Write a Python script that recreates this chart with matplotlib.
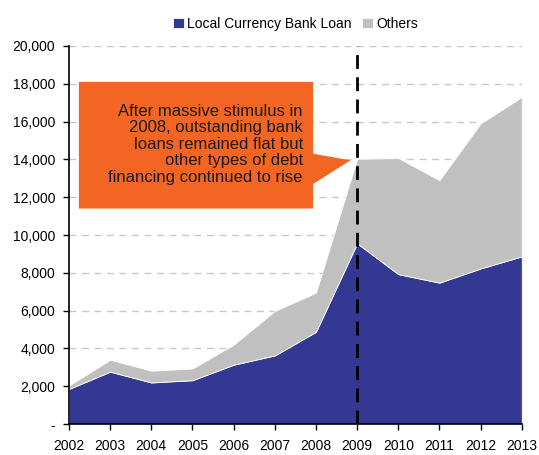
import numpy as np
import matplotlib.pyplot as plt
from matplotlib.patches import Polygon
from matplotlib.ticker import FuncFormatter

plt.rcParams['font.family'] = ['Liberation Sans', 'DejaVu Sans']

years = [2002, 2003, 2004, 2005, 2006, 2007, 2008, 2009, 2010, 2011, 2012, 2013]
bank_loan = [1860, 2770, 2200, 2320, 3140, 3630, 4880, 9560, 7930, 7480, 8230, 8870]
total_debt = [2040, 3400, 2820, 2940, 4200, 5980, 6950, 14030, 14070, 12900, 15900, 17300]
others = [t - b for t, b in zip(total_debt, bank_loan)]

note = ("After massive stimulus in\n2008, outstanding bank\nloans remained flat but\n"
        "other types of debt\nfinancing continued to rise")

blue = '#333893'
grey = '#c0c0c0'
orange = '#f26522'

fig = plt.figure(figsize=(5.39, 4.55), dpi=100)
ax = fig.add_axes([0.128, 0.068, 0.840, 0.831])

ax.stackplot(years, bank_loan, others, colors=[blue, grey],
             labels=['Local Currency Bank Loan', 'Others'],
             edgecolor='white', linewidth=0.6, zorder=2)

ax.set_xlim(2002, 2013)
ax.set_ylim(0, 20000)
ax.set_xticks(years)
ax.set_yticks(np.arange(0, 20001, 2000))
ax.yaxis.set_major_formatter(FuncFormatter(lambda v, p: '-' if v == 0 else f'{int(v):,}'))
ax.grid(axis='y', color='#c8c8c8', linestyle=(0, (5, 4)), linewidth=1, zorder=0)
ax.set_axisbelow(True)

for s in ['top', 'right']:
    ax.spines[s].set_visible(False)
ax.spines['left'].set_linewidth(1.2)
ax.spines['bottom'].set_linewidth(1.2)
ax.tick_params(axis='both', labelsize=10, direction='out', length=4, width=1, colors='black')
ax.tick_params(axis='x', pad=7)
ax.tick_params(axis='y', pad=6)

# stimulus marker
ax.axvline(2009, color='black', linestyle=(0, (5, 3)), linewidth=2, zorder=4)

# callout box with pointer
callout = Polygon([(2002.24, 18100), (2007.93, 18100), (2007.93, 14300), (2008.84, 13950),
                   (2007.93, 12700), (2007.93, 11400), (2002.24, 11400)],
                  closed=True, facecolor=orange, edgecolor='none', zorder=5)
ax.add_patch(callout)
ax.text(2007.68, 14800, note, ha='right', va='center', fontsize=12,
        linespacing=1.12, color='#1a1a1a', zorder=6)

ax.legend(loc='lower center', bbox_to_anchor=(0.5, 1.025), ncol=2, frameon=False,
          fontsize=10, handlelength=0.8, handleheight=0.8, handletextpad=0.2,
          columnspacing=0.8, borderaxespad=0)

fig.savefig('out.png', dpi=100)
